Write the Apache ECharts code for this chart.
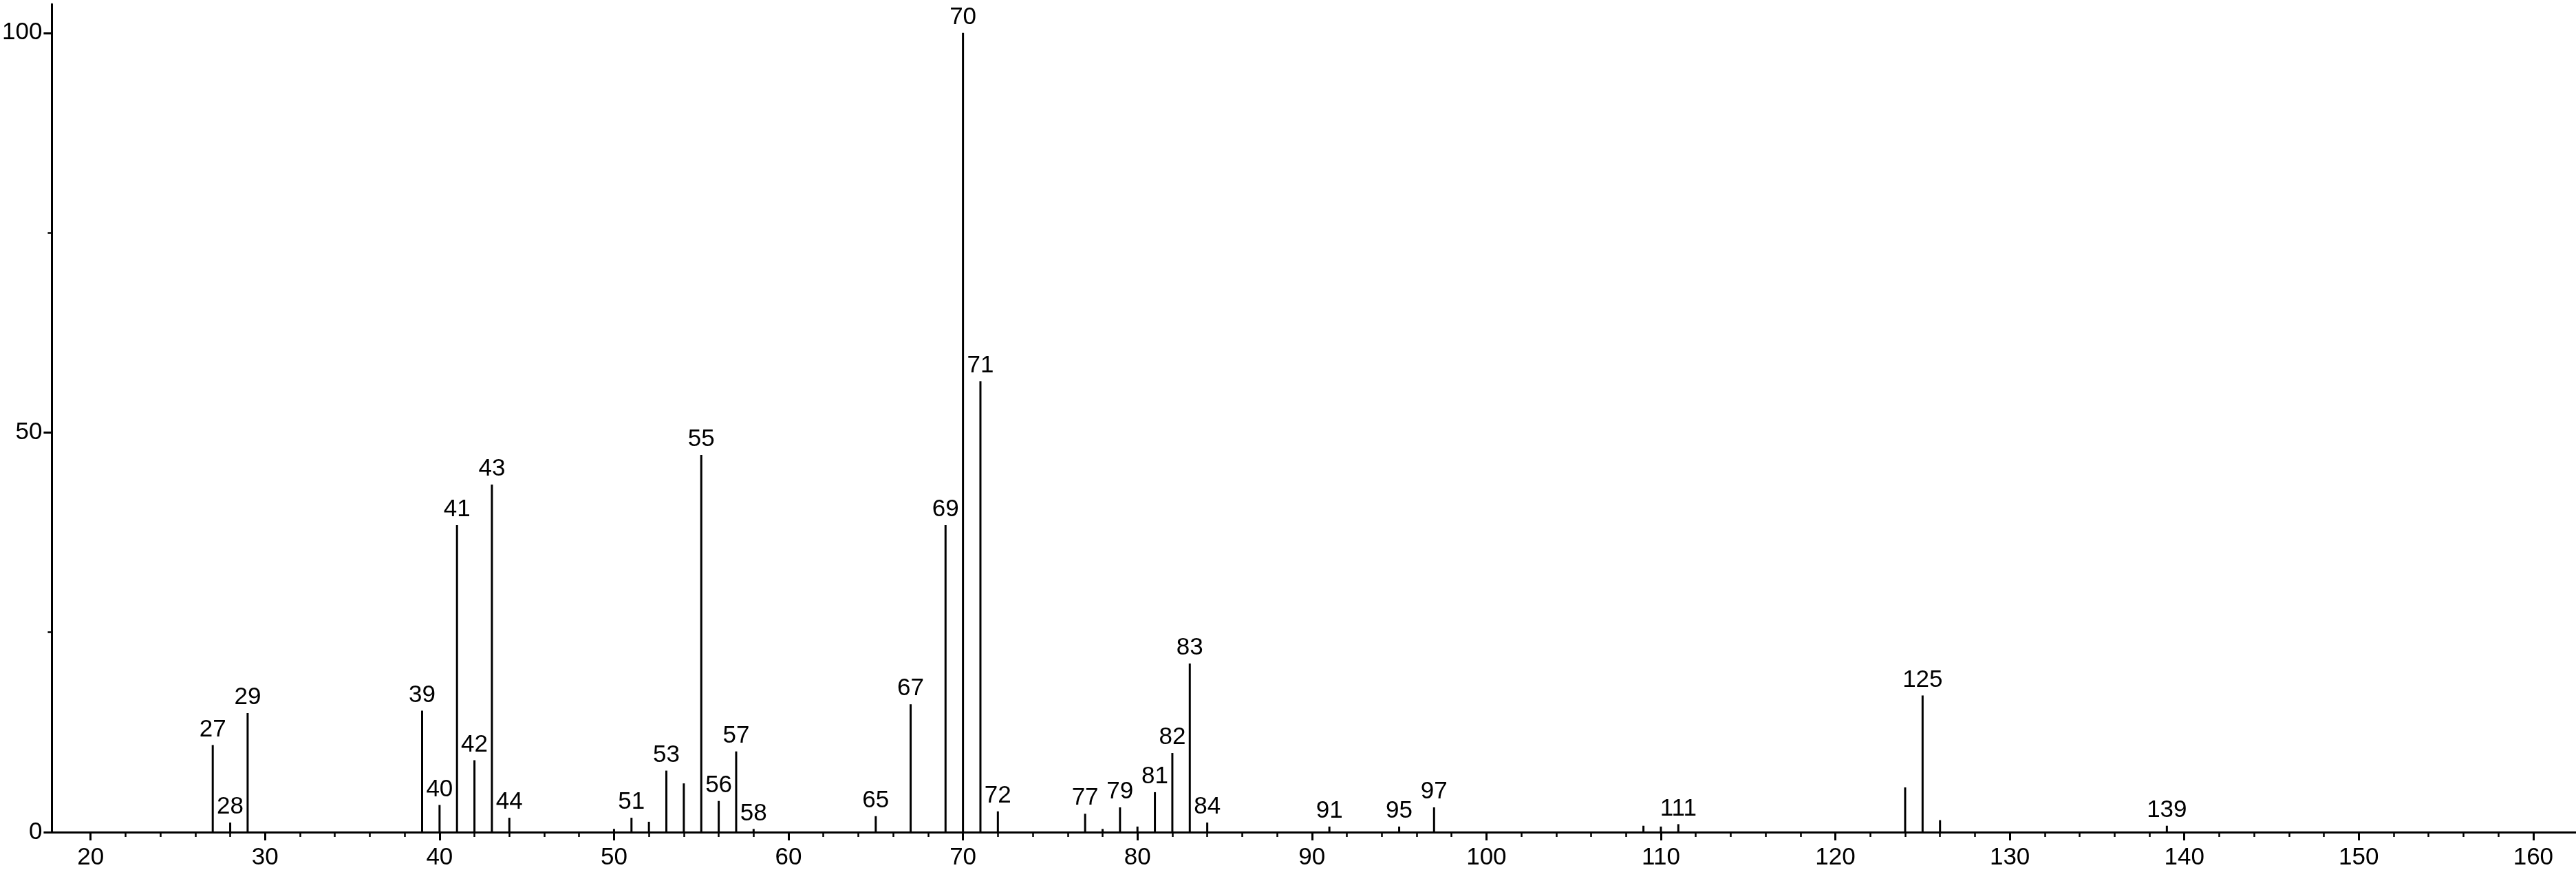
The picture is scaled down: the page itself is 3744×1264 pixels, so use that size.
<!DOCTYPE html>
<html>
<head>
<meta charset="utf-8">
<style>
html,body{margin:0;padding:0;background:#fff;}
#chart{width:3744px;height:1264px;}
</style>
<script src="https://cdn.jsdelivr.net/npm/echarts@6/dist/echarts.min.js"></script>
</head>
<body>
<div id="chart"></div>
<script>
// m/z values and relative intensities (%)
const mz = [27,28,29,39,40,41,42,43,44,50,51,52,53,54,55,56,57,58,65,67,69,70,71,72,77,78,79,80,81,82,83,84,91,95,97,109,110,111,124,125,126,139];
const intensity = [10.9,1.2,14.9,15.2,3.4,38.4,9.0,43.5,1.8,0.4,1.8,1.3,7.7,6.1,47.2,3.9,10.1,0.4,2.0,16.0,38.4,100,56.4,2.6,2.3,0.4,3.1,0.7,5.0,9.9,21.1,1.2,0.7,0.7,3.1,0.8,0.7,1.0,5.6,17.1,1.5,0.8];
const labeledMz = [27,28,29,39,40,41,42,43,44,51,53,55,56,57,58,65,67,69,70,71,72,77,79,81,82,83,84,91,95,97,111,125,139];
const xMajorTicks = [20,30,40,50,60,70,80,90,100,110,120,130,140,150,160];
const xMinorTicks = [22,24,26,28,32,34,36,38,42,44,46,48,52,54,56,58,62,64,66,68,72,74,76,78,82,84,86,88,92,94,96,98,102,104,106,108,112,114,116,118,122,124,126,128,132,134,136,138,142,144,146,148,152,154,156,158];
const yMajorTicks = [0,50,100];
const yMinorTicks = [25,75];

const FONT = '"Liberation Sans", Arial, sans-serif';
const X_MIN = 17.78, X_MAX = 162.45, Y_MIN = 0, Y_MAX = 103.6;

const data = mz.map((m, i) => ({
  value: [m, intensity[i]],
  label: { show: labeledMz.includes(m) }
}));

const chart = echarts.init(document.getElementById('chart'), null, {renderer: 'canvas'});
chart.setOption({
  animation: false,
  backgroundColor: '#fff',
  grid: { left: 69, right: 0, top: 6, bottom: 55, containLabel: false },
  xAxis: [{
    type: 'value', min: X_MIN, max: X_MAX, position: 'bottom',
    axisLine: { show: true, onZero: false, lineStyle: { color: '#000', width: 3 } },
    axisTick: { show: true, length: 12, customValues: xMajorTicks, lineStyle: { color: '#000', width: 3 } },
    axisLabel: { show: true, customValues: xMajorTicks, margin: 20, color: '#000', fontSize: 35, fontFamily: FONT },
    splitLine: { show: false }
  }, {
    type: 'value', min: X_MIN, max: X_MAX, position: 'bottom',
    axisLine: { show: false, onZero: false },
    axisTick: { show: true, length: 7, customValues: xMinorTicks, lineStyle: { color: '#000', width: 2.5 } },
    axisLabel: { show: false },
    splitLine: { show: false }
  }],
  yAxis: [{
    type: 'value', min: Y_MIN, max: Y_MAX, position: 'left',
    axisLine: { show: true, onZero: false, lineStyle: { color: '#000', width: 3 } },
    axisTick: { show: true, length: 12, customValues: yMajorTicks, lineStyle: { color: '#000', width: 3 } },
    axisLabel: { show: true, customValues: yMajorTicks, margin: 14, color: '#000', fontSize: 35, fontFamily: FONT },
    splitLine: { show: false }
  }, {
    type: 'value', min: Y_MIN, max: Y_MAX, position: 'left',
    axisLine: { show: false, onZero: false },
    axisTick: { show: true, length: 6, customValues: yMinorTicks, lineStyle: { color: '#000', width: 2.5 } },
    axisLabel: { show: false },
    splitLine: { show: false }
  }],
  series: [{
    type: 'bar',
    xAxisIndex: 0, yAxisIndex: 0,
    barWidth: 3,
    itemStyle: { color: '#000' },
    label: {
      position: 'top', distance: 5, color: '#000', fontSize: 35, fontFamily: FONT,
      formatter: p => String(p.value[0])
    },
    data: data
  }]
});
</script>
</body>
</html>
